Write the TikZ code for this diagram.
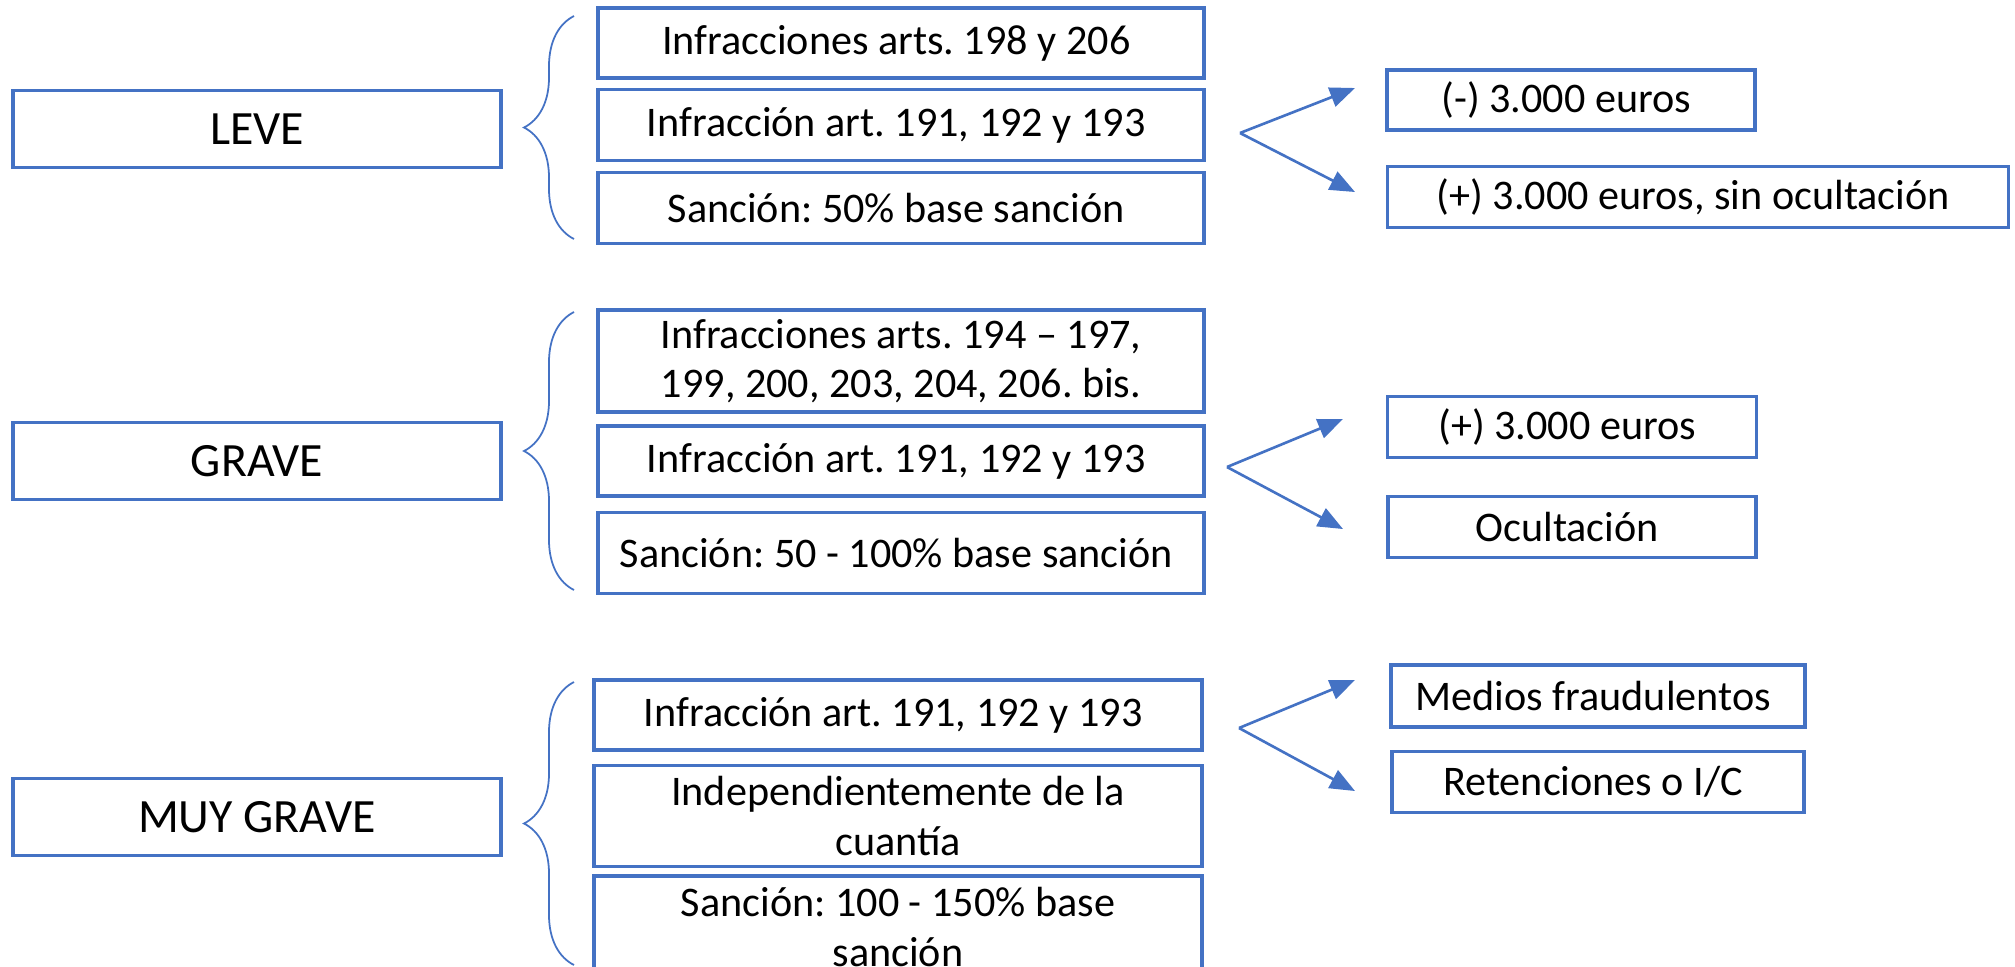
\documentclass[tikz,border=0pt]{standalone}
\usepackage{fontspec}
\setmainfont{Carlito}
\usetikzlibrary{arrows.meta,decorations.pathreplacing}
\definecolor{officeblue}{HTML}{4472C4}
\frenchspacing

\begin{document}
\begin{tikzpicture}[
box/.style={rectangle, draw=officeblue, line width=0.9pt, align=center, inner sep=1pt},
levelbox/.style={box, minimum width=4.88cm, minimum height=0.77cm, font=\fontsize{13.6}{16}\selectfont},
arr/.style={-{Triangle[length=0.25cm,width=0.2cm]}, draw=officeblue, line width=0.75pt},
grp/.style={draw=officeblue, line width=0.5pt, decorate, decoration={brace, amplitude=0.5cm}}
]
\tikzstyle{every node}=[font=\fontsize{12}{14}\selectfont]

\useasboundingbox (0,0) rectangle (20.15,-9.66);
\clip (0,0) rectangle (20.15,-9.66);

% LEVE
\node[levelbox] at (2.57, -1.29) (leve) {LEVE};

\node[box, minimum width=6.06cm, minimum height=0.70cm] at (9.01, -0.43) (l_arts) {
Infracciones arts. 198 y 206
};
\node[box, minimum width=6.06cm, minimum height=0.71cm] at (9.01, -1.25) (l_inf) {
Infracción art. 191, 192 y 193
};
\node[box, minimum width=6.06cm, minimum height=0.71cm] at (9.01, -2.08) (l_san) {
Sanción: 50\% base sanción
};

\node[box, minimum width=3.68cm, minimum height=0.60cm] at (15.71, -1.00) (l_menos) {
(-) 3.000 euros
};
\node[box, minimum width=6.21cm, minimum height=0.61cm] at (16.98, -1.97) (l_mas) {
(+) 3.000 euros, sin ocultación
};

% GRAVE
\node[levelbox] at (2.57, -4.61) (grave) {GRAVE};

\node[box, minimum width=6.06cm, minimum height=1.02cm] at (9.01, -3.61) (g_arts) {
Infracciones arts. 194 -- 197,\\
199, 200, 203, 204, 206. bis.
};
\node[box, minimum width=6.06cm, minimum height=0.70cm] at (9.01, -4.61) (g_inf) {
Infracción art. 191, 192 y 193
};
\node[box, minimum width=6.06cm, minimum height=0.81cm] at (9.01, -5.53) (g_san) {
Sanción: 50 - 100\% base sanción
};

\node[box, minimum width=3.69cm, minimum height=0.61cm] at (15.72, -4.27) (g_mas) {
(+) 3.000 euros
};
\node[box, minimum width=3.68cm, minimum height=0.61cm] at (15.72, -5.27) (g_ocul) {
Ocultación
};

% MUY GRAVE
\node[levelbox] at (2.57, -8.17) (muygrave) {MUY GRAVE};

\node[box, minimum width=6.08cm, minimum height=0.70cm] at (8.98, -7.15) (m_inf) {
Infracción art. 191, 192 y 193
};
\node[box, minimum width=6.08cm, minimum height=1.01cm] at (8.98, -8.16) (m_ind) {
Independientemente de la\\
cuantía
};
\node[box, minimum width=6.08cm, minimum height=1.02cm] at (8.98, -9.27) (m_san) {
Sanción: 100 - 150\% base\\
sanción
};

\node[box, minimum width=4.14cm, minimum height=0.62cm] at (15.98, -6.96) (m_medios) {
Medios fraudulentos
};
\node[box, minimum width=4.12cm, minimum height=0.61cm] at (15.98, -7.82) (m_ret) {
Retenciones o I/C
};

% braces
\coordinate (l_top) at (5.74, -0.16);
\coordinate (l_bot) at (5.74, -2.39);
\coordinate (g_top) at (5.74, -3.12);
\coordinate (g_bot) at (5.74, -5.90);
\coordinate (m_top) at (5.74, -6.82);
\coordinate (m_bot) at (5.74, -9.65);

\draw[grp] (l_bot) -- (l_top);
\draw[grp] (g_bot) -- (g_top);
\draw[grp] (m_bot) -- (m_top);

% forks
\coordinate (l_fork) at (12.40, -1.33);
\coordinate (l_up) at (13.55, -0.88);
\coordinate (l_down) at (13.55, -1.92);
\coordinate (g_fork) at (12.27, -4.67);
\coordinate (g_up) at (13.43, -4.19);
\coordinate (g_down) at (13.43, -5.29);
\coordinate (m_fork) at (12.39, -7.28);
\coordinate (m_up) at (13.55, -6.80);
\coordinate (m_down) at (13.55, -7.91);

\draw[arr] (l_fork) -- (l_up);
\draw[arr] (l_fork) -- (l_down);
\draw[arr] (g_fork) -- (g_up);
\draw[arr] (g_fork) -- (g_down);
\draw[arr] (m_fork) -- (m_up);
\draw[arr] (m_fork) -- (m_down);

\end{tikzpicture}
\end{document}
